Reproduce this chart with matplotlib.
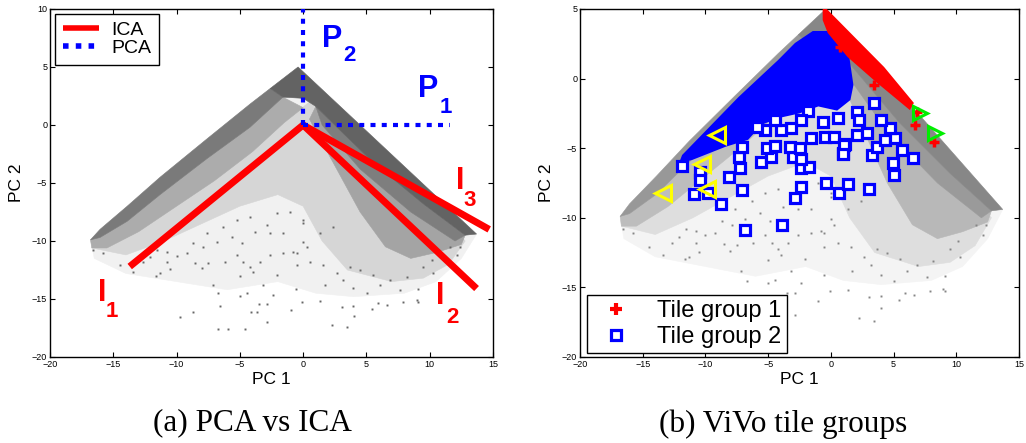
import matplotlib
matplotlib.use('Agg')
import matplotlib.pyplot as plt
from matplotlib.lines import Line2D

plt.rcParams['font.family'] = ['Liberation Sans', 'DejaVu Sans']

# ---------------- data ----------------
# point cloud (PC1, PC2): density levels (1 = sparse ... 5 = solid)
lev1_x = [-0.4, -16.8, -16.5, -14.0, -10.0, -6.0, -2.0, 1.0, 4.0, 8.0, 10.5, 12.5, 13.7]
lev1_y = [5.0, -9.9, -11.5, -12.8, -13.5, -14.2, -13.5, -14.5, -14.8, -14.5, -13.5, -11.5, -9.4]
lev2_x = [0.5, -1.5, -16.7, -14.0, -11.0, -8.0, -5.0, -2.0, 0.0, 1.5, 3.5, 7.0, 9.5, 11.5, 12.8, 12.0]
lev2_y = [2.0, 0.2, -10.6, -11.2, -10.0, -8.5, -7.0, -6.0, -7.0, -10.0, -12.5, -13.5, -13.2, -12.0, -10.0, -9.0]
lev3L_x = [-1.6, -4.2, -7.6, -11.3, -13.9, -16.05, -16.8, -16.7, -15.5, -13.0, -10.0, -7.0, -4.0, -1.5, 0.0]
lev3L_y = [2.4, -0.2, -2.9, -6.0, -8.3, -9.7, -9.9, -10.6, -10.6, -9.2, -7.0, -4.8, -2.3, 0.2, 1.5]
lev3R_x = [1.0, 1.5, 4.5, 8.5, 12.0, 12.8, 12.5, 10.5, 8.5, 6.5, 4.5, 3.0, 1.5, 0.5]
lev3R_y = [1.6, 0.0, -3.8, -7.5, -10.0, -9.5, -10.3, -11.0, -11.5, -10.5, -7.5, -4.5, -1.5, 0.5]
lev4L_x = [-2.6, -4.2, -7.6, -11.3, -13.9, -16.05, -16.8, -16.05, -13.9, -11.3, -7.6, -4.2, -1.6]
lev4L_y = [3.15, 1.8, -1.2, -4.5, -7.0, -9.0, -9.9, -9.7, -8.3, -6.0, -2.9, -0.2, 2.4]
lev4R_x = [1.0, 2.5, 5.5, 9.5, 12.8, 12.0, 8.5, 4.5, 1.5]
lev4R_y = [1.6, 0.0, -3.2, -6.8, -9.5, -10.0, -7.5, -3.8, 0.0]
lev5_x = [-0.4, 13.7, 12.8, 9.5, 5.5, 2.5, 1.0, 0.0, -1.6, -2.6]
lev5_y = [5.0, -9.4, -9.5, -6.8, -3.2, 0.0, 1.6, 2.3, 2.4, 3.15]

# sparse individual points of the cloud
pts_x = [-9.73, -8.73, -6.70, -5.91, -4.60, -4.15, -3.62, -2.89, -3.47, -2.89, -0.99, -0.07, 1.33,
         2.25, 3.04, 3.44, 4.01, 3.96, 5.41, 5.93, 6.59, 7.91, 9.09, -6.57,
         -7.15, -6.70, -4.99, -4.47, -3.15, -2.41, -0.57, -4.99, -3.94, -2.10, -8.02, -8.55,
         -10.52, -11.31, -11.63, -10.78, -10.0, -9.2, -7.5, -6.18, -5.26, -4.73, -4.2, -3.41,
         -2.62, -1.57, -0.52, 0.27, -1.57, -2.62, -3.81, -5.65, -4.86, -6.84, -7.89, -8.68,
         -7.63, -6.31, -5.26, -4.2, -2.89, -2.1, -1.04, 0.01,
         -15.79, -16.58, -14.47, -13.42, -12.63, -12.1, -10.78, -11.57,
         0.01, 1.72, 3.17, 3.96, 5.01, 8.96, 9.09, 7.65, 6.86, 5.54, 4.49, 3.7, 2.64, 1.59,
         0.54, -0.52, -0.78, 0.01, 1.33, 2.38, 10.28, 11.6, 12.38, 12.12, 10.15, 9.49, 8.17, 6.07]
pts_y = [-16.53, -16.15, -17.62, -17.62, -17.62, -16.15, -16.15, -16.97, -15.43, -15.43, -15.95, -15.23, -15.17,
         -17.21, -15.72, -17.39, -16.47, -15.6, -15.89, -15.38, -15.52, -15.23, -15.23, -15.6,
         -13.79, -14.51, -14.71, -14.45, -13.79, -14.66, -14.14, -13.02, -12.64, -12.93, -12.36, -11.87,
         -12.44, -12.79, -12.99, -11.84, -11.27, -11.06, -11.93, -11.78, -11.21, -11.78, -12.21, -11.78,
         -11.21, -11.06, -11.06, -10.49, -9.34, -9.34, -9.2, -9.63, -10.2, -10.06, -10.49, -10.2,
         -9.34, -8.77, -8.19, -7.9, -8.62, -7.62, -7.47, -8.48,
         -11.06, -10.78, -12.07, -12.64, -11.78, -11.35, -10.92, -10.78,
         -10.06, -13.79, -13.36, -14.08, -14.51, -15.09, -14.17, -14.22, -13.36, -12.93, -12.5, -12.21, -12.79, -12.07,
         -11.78, -12.07, -10.92, -8.19, -9.34, -8.77, -12.79, -10.49, -10.49, -11.21, -11.64, -12.21, -13.07, -13.79]

# PCA / ICA directions (end points, lines start at origin)
ica_x = [-13.7, 13.7, 14.7]
ica_y = [-12.2, -14.1, -9.0]
pca_x = [0.0, 11.6]
pca_y = [10.0, 0.0]

# tile group 2 (blue squares): dense mass outline + individual squares
blue_mass_x = [-1.44, -0.09, 1.33, 1.80, 1.56, 0.5, -1.0, -2.5, -4.0, -5.5, -6.6, -8.4, -11.07, -12.1,
               -11.86, -7.36, -4.2, -2.86]
blue_mass_y = [3.42, 3.42, 2.41, -0.46, -1.54, -2.3, -2.0, -2.5, -2.8, -3.3, -4.4, -4.9, -5.85, -6.06,
               -5.49, -1.32, 1.34, 2.56]
sq_x = [-11.84, -10.47, -10.44, -10.92, -9.78, -8.73, -8.15, -7.23, -7.05, -7.36, -7.10, -5.60, -4.78, -5.12,
        -4.46, -6.83, -3.89, -2.89, -2.36, -2.41, -1.78, -3.02, -2.36, -3.28, -2.49, -0.38, 0.67, 1.33, 3.04,
        0.93, 1.12, -0.46, 0.27, -1.57, 2.12, 2.91, 3.30, 3.64, 4.30, 4.96, 5.07, 5.67, 6.54, 5.15, 4.75,
        3.96, 3.43, 2.12, 2.25, 0.54, -0.65, -1.83, -2.36, -3.15, -3.94, -4.46, -5.25, -5.91, 1.01, 0.93]
sq_y = [-6.28, -6.69, -7.28, -8.29, -8.19, -9.01, -7.09, -6.45, -8.00, -5.61, -4.94, -5.97, -5.66, -5.01,
        -4.84, -10.88, -10.52, -8.60, -7.76, -6.45, -6.37, -5.66, -5.80, -4.89, -5.01, -7.48, -8.19, -7.57, -7.95,
        -5.37, -4.70, -4.17, -4.17, -4.29, -4.05, -3.93, -5.49, -4.94, -4.41, -6.04, -6.93, -5.13, -5.73, -4.29, -3.57,
        -2.97, -1.78, -2.38, -2.97, -2.85, -3.09, -2.30, -2.97, -3.57, -3.69, -2.97, -3.69, -3.50, -4.77, -5.42]

# tile group 1 (red pluses): dense band outline + individual pluses
red_band_x = [-0.65, 1.88, 4.25, 6.62, 6.30, 3.70, 1.33, -0.25, -0.65]
red_band_y = [5.3, 2.99, 0.83, -1.75, -2.26, -0.32, 1.55, 3.28, 4.2]
plus_x = [3.46, 6.7, 8.2, 0.7, 6.9]
plus_y = [-0.46, -3.3, -4.55, 2.3, -2.4]

# other marked tiles
green_x = [7.1, 8.3]
green_y = [-2.5, -3.9]
yellow_x = [-9.1, -10.3, -9.9, -13.4]
yellow_y = [-4.05, -6.1, -7.9, -8.2]

xticks = [-20, -15, -10, -5, 0, 5, 10, 15]
yticks_a = [-20, -15, -10, -5, 0, 5, 10]
yticks_b = [-20, -15, -10, -5, 0, 5]

# ---------------- figure ----------------
fig = plt.figure(figsize=(10.26, 4.43), dpi=100)
axA = fig.add_axes([50/1026, 86/443, 443/1026, 348/443])
axB = fig.add_axes([580/1026, 86/443, 439/1026, 348/443])


def draw_cloud(ax, colors, c_pts):
    layers = [(lev1_x, lev1_y), (lev2_x, lev2_y), (lev3L_x, lev3L_y), (lev3R_x, lev3R_y),
              (lev4L_x, lev4L_y), (lev4R_x, lev4R_y), (lev5_x, lev5_y)]
    for (xs, ys), c in zip(layers, colors):
        ax.fill(xs, ys, color=c, lw=0.4, ec=c, zorder=1)
    ax.plot(pts_x, pts_y, ls='none', marker='s', ms=1.4, mew=0, color=c_pts, zorder=1)


def style_axes(ax, yticks, ylim):
    ax.set_xlim(-20, 15)
    ax.set_ylim(*ylim)
    ax.set_xticks(xticks)
    ax.set_yticks(yticks)
    ax.tick_params(direction='in', length=3.5, width=0.8, top=True, right=True, labelsize=6.5, pad=2)
    for s in ax.spines.values():
        s.set_linewidth(1.0)
    ax.set_xlabel('PC 1', fontsize=12.5, labelpad=2)
    ax.set_ylabel('PC 2', fontsize=12.5, labelpad=6)


# ---- (a) ----
draw_cloud(axA, ['#f1f1f1', '#d6d6d6', '#acacac', '#a4a4a4', '#7a7a7a', '#7e7e7e', '#636363'], '#666666')
for ex, ey in zip(ica_x, ica_y):
    axA.plot([0, ex], [0, ey], color='#ff0000', lw=5, solid_capstyle='butt', zorder=3)
for ex, ey in zip(pca_x, pca_y):
    ln, = axA.plot([0, ex], [0, ey], color='#0000ff', lw=3, dash_capstyle='butt', zorder=4)
    ln.set_dashes([1.2, 1.5])
style_axes(axA, yticks_a, (-20, 10))

ann = [('P', 2.27, 7.41, '2', 3.62, 6.03, '#0000ff'),
       ('P', 9.86, 3.10, '1', 11.28, 1.47, '#0000ff'),
       ('I', 12.39, -4.83, '3', 13.18, -6.55, '#ff0000'),
       ('I', 10.8, -14.7, '2', 11.83, -16.6, '#ff0000'),
       ('I', -15.9, -14.5, '1', -15.1, -16.1, '#ff0000')]
for L, lx, ly, S, sx, sy, c in ann:
    axA.text(lx, ly, L, color=c, fontsize=22, fontweight='bold', ha='center', va='center', zorder=5)
    axA.text(sx, sy, S, color=c, fontsize=16, fontweight='bold', ha='center', va='center', zorder=5)

h_ica = Line2D([], [], color='#ff0000', lw=4, solid_capstyle='butt')
h_pca = Line2D([], [], color='#0000ff', lw=4, dash_capstyle='butt')
h_pca.set_dashes([1.0, 1.3])
legA = axA.legend([h_ica, h_pca], ['ICA', 'PCA'], loc='upper left', bbox_to_anchor=(0.011, 0.986),
                  borderaxespad=0, fontsize=14, fancybox=False, framealpha=1, edgecolor='black',
                  handlelength=1.85, handletextpad=0.65, borderpad=0.4, labelspacing=0.0)
legA.get_frame().set_linewidth(1.0)

# ---- (b) ----
draw_cloud(axB, ['#f4f4f4', '#dedede', '#bdbdbd', '#b8b8b8', '#989898', '#9a9a9a', '#878787'], '#858585')
axB.fill(blue_mass_x, blue_mass_y, color='#0000ff', lw=0, zorder=3)
axB.plot(sq_x, sq_y, ls='none', marker='s', ms=7, mew=2.3, mec='#0000ff', mfc='white', zorder=4)
axB.fill(red_band_x, red_band_y, color='#ff0000', lw=0, zorder=5)
axB.plot(plus_x, plus_y, ls='none', marker='+', ms=7, mew=2.5, color='#ff0000', zorder=5)
axB.plot(green_x, green_y, ls='none', marker='>', ms=10, mew=2.2, mec='#00ee00', mfc='none', zorder=6)
axB.plot(yellow_x, yellow_y, ls='none', marker='<', ms=11, mew=2.2, mec='#ffff00', mfc='none', zorder=6)
style_axes(axB, yticks_b, (-20, 5))

h_g1 = Line2D([], [], ls='none', marker='+', ms=8, mew=3, color='#ff0000')
h_g2 = Line2D([], [], ls='none', marker='s', ms=7, mew=2.3, mec='#0000ff', mfc='white')
legB = axB.legend([h_g1, h_g2], ['Tile group 1', 'Tile group 2'], loc='lower left',
                  bbox_to_anchor=(0.016, 0.011), borderaxespad=0, fontsize=17, fancybox=False,
                  framealpha=1, edgecolor='black', handlelength=2.0, handletextpad=0.75,
                  borderpad=0.22, labelspacing=0.15)
legB.get_frame().set_linewidth(1.0)

fig.text(252/1026, 1 - 423/443, '(a) PCA vs ICA', ha='center', va='center',
         fontsize=22.5, family=['Liberation Serif', 'DejaVu Serif'])
fig.text(783/1026, 1 - 424/443, '(b) ViVo tile groups', ha='center', va='center',
         fontsize=22.5, family=['Liberation Serif', 'DejaVu Serif'])

fig.savefig('out.png', dpi=100)
